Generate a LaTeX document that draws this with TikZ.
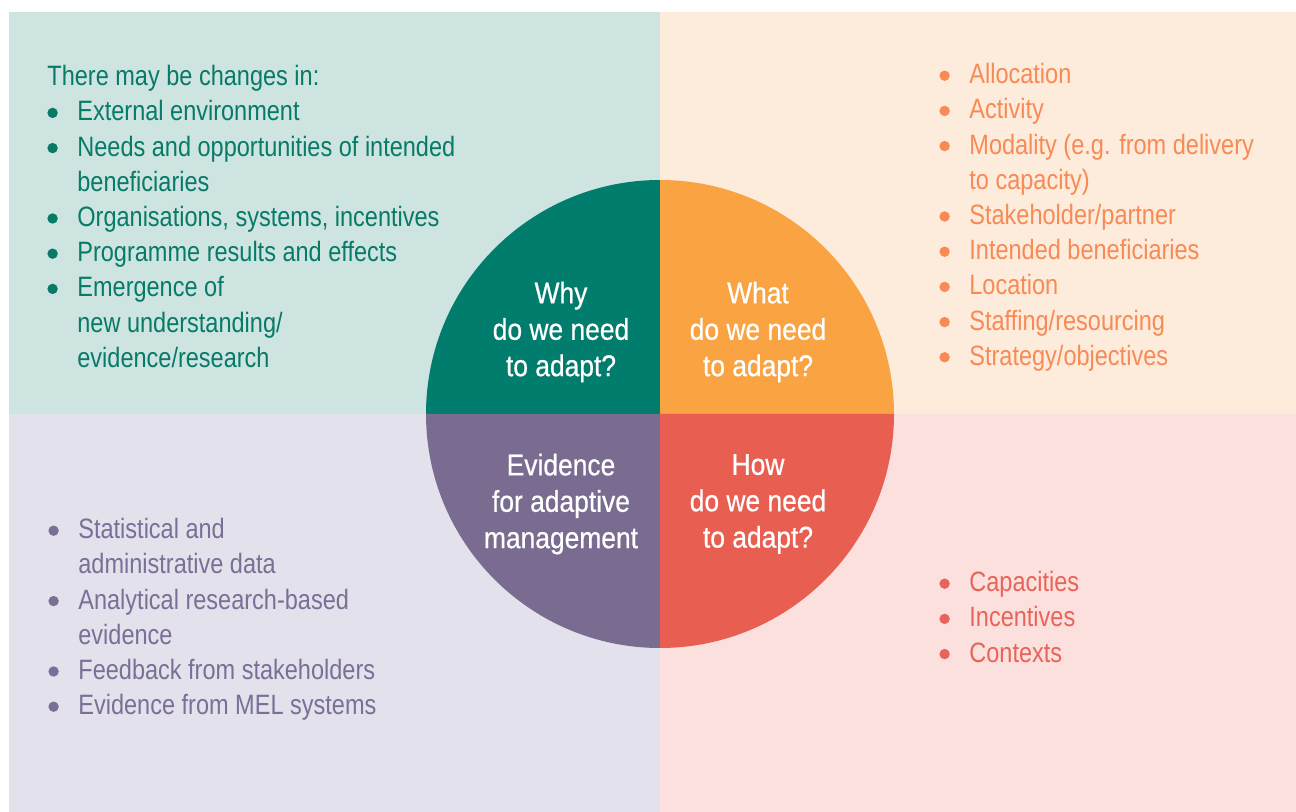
\documentclass[tikz,border=0pt]{standalone}
\usepackage{fontspec}
\setmainfont{Liberation Sans}[FakeStretch=0.84]
\newfontfamily\hubfont{Liberation Sans}[FakeStretch=0.88,FakeBold=0.6]

% quadrant colours
\definecolor{whyFill}{HTML}{007D6D}
\definecolor{whyBack}{HTML}{CDE4E1}
\definecolor{whyText}{HTML}{087A68}
\definecolor{whatFill}{HTML}{F9A343}
\definecolor{whatBack}{HTML}{FDEBDB}
\definecolor{whatText}{HTML}{F88A55}
\definecolor{evFill}{HTML}{796C90}
\definecolor{evBack}{HTML}{E3E1EB}
\definecolor{evText}{HTML}{7B6F97}
\definecolor{howFill}{HTML}{E85F51}
\definecolor{howBack}{HTML}{FBE0DD}
\definecolor{howText}{HTML}{E8645A}

% bullet and hanging indent for the lists
\newcommand{\bul}{\makebox[15pt][l]{\tikz[baseline=-4pt]\fill (2.6pt,0) circle (2.6pt);}}
\newcommand{\ind}{\makebox[15pt]{}}

\tikzset{
  panel/.style={anchor=north west, align=left, inner sep=0pt, font=\fontsize{14}{17.6}\selectfont},
  hub/.style={align=center, text=white, inner sep=0pt, font=\hubfont\fontsize{15}{18.2}\selectfont},
}

\begin{document}
\begin{tikzpicture}[x=0.5pt,y=-0.5pt]
  \useasboundingbox (0,0) rectangle (1296,812);

  % Background panels
  \fill[whyBack]  (9,12)   rectangle (660,414);
  \fill[whatBack] (660,12) rectangle (1296,414);
  \fill[evBack]   (9,414)  rectangle (660,812);
  \fill[howBack]  (660,414) rectangle (1296,812);

  % Wheel in the middle
  \coordinate (ctr) at (660,414);
  \fill[whyFill]  (ctr) -- ++(90:117pt)  arc[start angle=90,  end angle=180, radius=117pt] -- cycle;
  \fill[whatFill] (ctr) -- ++(0:117pt)   arc[start angle=0,   end angle=90,  radius=117pt] -- cycle;
  \fill[evFill]   (ctr) -- ++(180:117pt) arc[start angle=180, end angle=270, radius=117pt] -- cycle;
  \fill[howFill]  (ctr) -- ++(270:117pt) arc[start angle=270, end angle=360, radius=117pt] -- cycle;

  % Wheel labels
  \node[hub] (why)  at (561,332) {Why\\do we need\\to adapt?};
  \node[hub] (what) at (758,332) {What\\do we need\\to adapt?};
  \node[hub] (ev)   at (561,504) {Evidence\\for adaptive\\management};
  \node[hub] (how)  at (758,504) {How\\do we need\\to adapt?};

  % Why: changes
  \node[panel,text=whyText] (changes) at (47,65) {There may be changes in:\\
    \bul External environment\\
    \bul Needs and opportunities of intended\\
    \ind beneficiaries\\
    \bul Organisations, systems, incentives\\
    \bul Programme results and effects\\
    \bul Emergence of\\
    \ind new understanding/\\
    \ind evidence/research};

  % What: areas to adapt
  \node[panel,text=whatText] (areas) at (939,63) {\bul Allocation\\
    \bul Activity\\
    \bul Modality (e.g. from delivery\\
    \ind to capacity)\\
    \bul Stakeholder/partner\\
    \bul Intended beneficiaries\\
    \bul Location\\
    \bul Staffing/resourcing\\
    \bul Strategy/objectives};

  % Evidence sources
  \node[panel,text=evText] (sources) at (48,518) {\bul Statistical and\\
    \ind administrative data\\
    \bul Analytical research-based\\
    \ind evidence\\
    \bul Feedback from stakeholders\\
    \bul Evidence from MEL systems};

  % How: conditions
  \node[panel,text=howText] (conds) at (939,571) {\bul Capacities\\
    \bul Incentives\\
    \bul Contexts};
\end{tikzpicture}
\end{document}
